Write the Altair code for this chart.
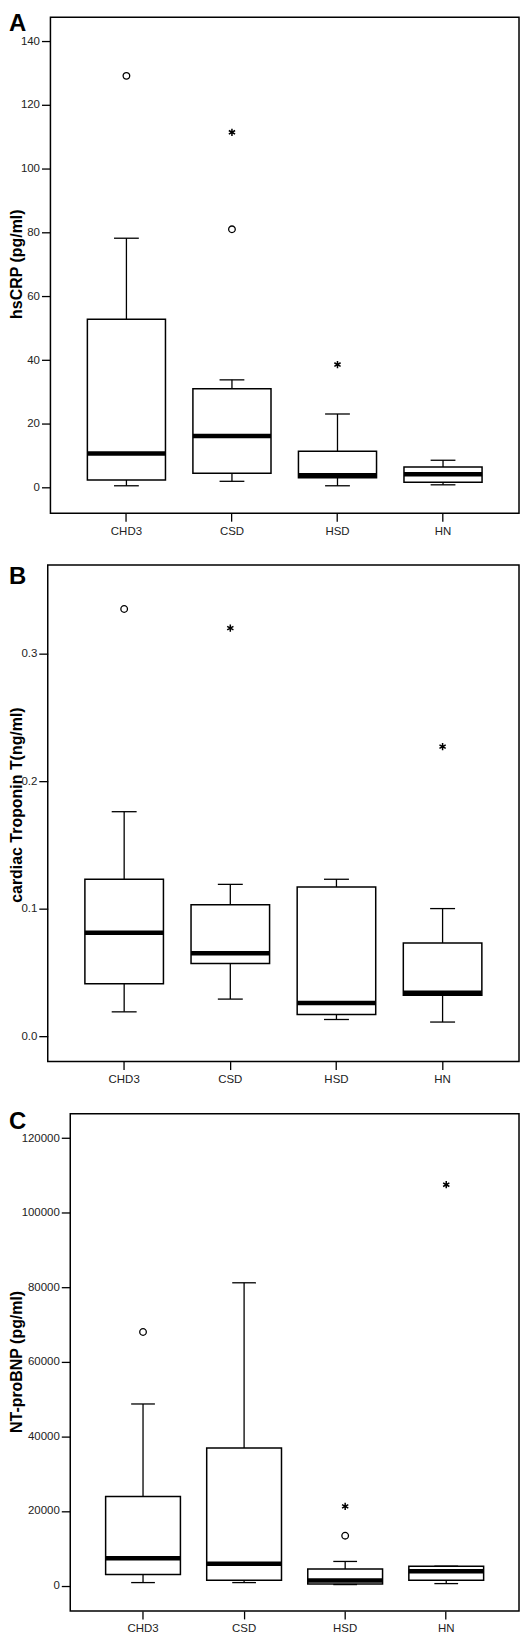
import altair as alt
import pandas as pd

groups = ["CHD3", "CSD", "HSD", "HN"]

# Panel A: hsCRP (pg/ml)
crp_low = [0.6, 2.0, 0.6, 0.9]
crp_q1 = [2.4, 4.5, 3.1, 1.7]
crp_med = [10.7, 16.2, 3.9, 4.2]
crp_q3 = [52.8, 31.0, 11.4, 6.5]
crp_high = [78.2, 33.8, 23.1, 8.6]
crp_circle_g = ["CHD3", "CSD"]
crp_circle_v = [129.1, 81.0]
crp_star_g = ["CSD", "HSD"]
crp_star_v = [111.4, 38.6]
crp_ticks = [0, 20, 40, 60, 80, 100, 120, 140]

# Panel B: cardiac Troponin T (ng/ml)
tnt_low = [0.019, 0.029, 0.013, 0.011]
tnt_q1 = [0.041, 0.057, 0.017, 0.032]
tnt_med = [0.081, 0.065, 0.026, 0.034]
tnt_q3 = [0.123, 0.103, 0.117, 0.073]
tnt_high = [0.176, 0.119, 0.123, 0.100]
tnt_circle_g = ["CHD3"]
tnt_circle_v = [0.335]
tnt_star_g = ["CSD", "HN"]
tnt_star_v = [0.320, 0.227]
tnt_ticks = [0.0, 0.1, 0.2, 0.3]

# Panel C: NT-proBNP (pg/ml)
bnp_low = [800, 800, 270, 530]
bnp_q1 = [2950, 1420, 440, 1420]
bnp_med = [7350, 5880, 1330, 3820]
bnp_q3 = [23900, 36900, 4420, 5200]
bnp_high = [48700, 81200, 6470, 5200]
bnp_circle_g = ["CHD3", "HSD"]
bnp_circle_v = [68000, 13370]
bnp_star_g = ["HSD", "HN"]
bnp_star_v = [21250, 107500]
bnp_ticks = [0, 20000, 40000, 60000, 80000, 100000, 120000]

FONT = "Liberation Sans"
STAR = "M0,-1L0,1M-0.87,-0.5L0.87,0.5M-0.87,0.5L0.87,-0.5"
W = 512  # full panel width (page is 529 wide with 8px margins)


def panel(letter, title, low, q1, med, q3, high, cg, cv, sg, sv,
          domain, ticks, fmt, frame_left, height, letter_y, title_y):
    box = pd.DataFrame({"g": groups, "low": low, "q1": q1, "med": med,
                        "q3": q3, "high": high})
    circ = pd.DataFrame({"g": cg, "v": cv})
    star = pd.DataFrame({"g": sg, "v": sv})
    L = frame_left - 8
    step = (W - L) / 4.44
    bw = step * 0.74
    cap = step * 0.235

    xax = alt.Axis(title=None, labelAngle=0, domain=False, grid=False,
                   tickSize=8, labelPadding=4)
    yax = alt.Axis(title=None, domain=False, grid=False, values=ticks,
                   format=fmt, tickSize=9, labelPadding=2, offset=-L)
    xs = alt.X("g:N", sort=groups, axis=xax,
               scale=alt.Scale(range=[L, W], paddingInner=0.26,
                               paddingOuter=0.35))
    ysc = alt.Scale(domain=domain, nice=False, zero=False)

    def Y(f):
        return alt.Y(f, scale=ysc, axis=yax, title=None)

    base = alt.Chart(box)
    whisk = base.mark_rule(color="black", strokeWidth=1.3).encode(
        x=xs, y=Y("low:Q"), y2="high:Q")
    boxes = base.mark_bar(fill="white", stroke="black", strokeWidth=1.5,
                          opacity=1).encode(x=xs, y=Y("q1:Q"), y2="q3:Q")
    cap_lo = base.mark_tick(color="black", size=cap, thickness=1.3,
                            opacity=1).encode(x=xs, y=Y("low:Q"))
    cap_hi = base.mark_tick(color="black", size=cap, thickness=1.3,
                            opacity=1).encode(x=xs, y=Y("high:Q"))
    meds = base.mark_tick(color="black", size=bw, thickness=4.5,
                          opacity=1).encode(x=xs, y=Y("med:Q"))
    circles = alt.Chart(circ).mark_point(
        shape="circle", size=44, filled=False, color="black",
        strokeWidth=1.3, opacity=1).encode(x=xs, y=Y("v:Q"))
    stars = alt.Chart(star).mark_point(
        shape=STAR, size=52, filled=False, color="black",
        strokeWidth=1.5, opacity=1).encode(x=xs, y=Y("v:Q"))

    frame = alt.Chart(pd.DataFrame({"f": [0]})).mark_rect(
        filled=False, stroke="black", strokeWidth=1.5).encode(
        x=alt.value(L), x2=alt.value(W), y=alt.value(0), y2=alt.value(height))
    lt = alt.Chart(pd.DataFrame({"t": [letter]})).mark_text(
        align="left", baseline="top", fontSize=24, fontWeight="bold",
        font=FONT, color="black").encode(
        text="t:N", x=alt.value(0), y=alt.value(letter_y))
    tt = alt.Chart(pd.DataFrame({"t": [title]})).mark_text(
        angle=270, align="center", baseline="top", fontSize=16,
        fontWeight="bold", font=FONT, color="black").encode(
        text="t:N", x=alt.value(0), y=alt.value(title_y))

    return alt.layer(frame, whisk, boxes, cap_lo, cap_hi, meds, circles,
                     stars, lt, tt).properties(width=W, height=height)


pA = panel("A", "hsCRP (pg/ml)", crp_low, crp_q1, crp_med, crp_q3, crp_high,
           crp_circle_g, crp_circle_v, crp_star_g, crp_star_v,
           [-8, 147.5], crp_ticks, "d", 49.6, 498, -4.8, 248)
pB = panel("B", "cardiac Troponin T(ng/ml)", tnt_low, tnt_q1, tnt_med, tnt_q3,
           tnt_high, tnt_circle_g, tnt_circle_v, tnt_star_g, tnt_star_v,
           [-0.02, 0.3695], tnt_ticks, ".1f", 46.9, 498.5, 0, 241)
pC = panel("C", "NT-proBNP (pg/ml)", bnp_low, bnp_q1, bnp_med, bnp_q3,
           bnp_high, bnp_circle_g, bnp_circle_v, bnp_star_g, bnp_star_v,
           [-6800, 126500], bnp_ticks, "d", 69.5, 499, -4, 249)

chart = alt.vconcat(pA, pB, pC, spacing=52, bounds="flush").properties(
    padding={"top": 0, "left": 0, "right": 0, "bottom": 0}
).configure_view(stroke="transparent").configure_axis(
    labelFont=FONT, labelFontSize=11.5, labelColor="#222",
    tickColor="black", tickWidth=1.3)

chart.save("out.html", embed_options={"renderer": "svg", "actions": False})
